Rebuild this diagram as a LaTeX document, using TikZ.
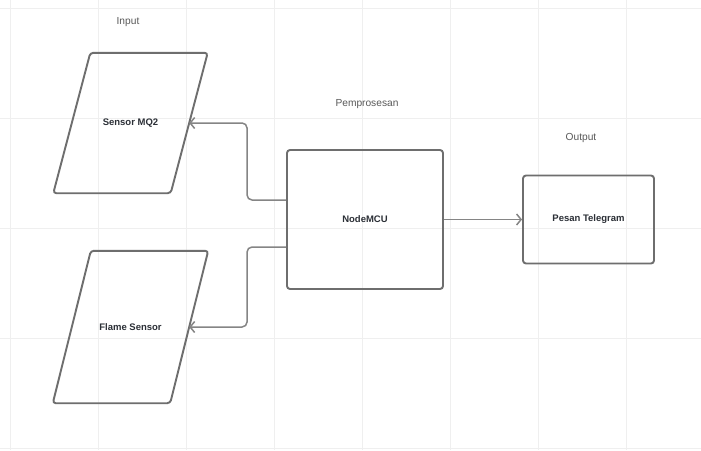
\documentclass[tikz,border=0pt]{standalone}
\usepackage{fontspec}
\setmainfont{Liberation Sans}
\usetikzlibrary{arrows.meta}
\definecolor{boxgray}{HTML}{6E6E6E}
\definecolor{linegray}{HTML}{858585}
\definecolor{gridgray}{HTML}{EFEFEF}
\definecolor{textdark}{HTML}{2B2F36}

\begin{document}
\begin{tikzpicture}[x=1pt, y=-1pt,
	gridline/.style={draw=gridgray, line width=0.8},
	box/.style={draw=boxgray, line width=1.9, rounded corners=3, font=\bfseries\fontsize{9.5}{11}\selectfont, text=textdark},
	para/.style={font=\bfseries\fontsize{9.5}{11}\selectfont, text=textdark, minimum width=117},
	outline/.style={draw=boxgray, line width=1.9, rounded corners=3},
	lbl/.style={font=\fontsize{10.2}{12}\selectfont, text=black!65},
	conn/.style={-{Straight Barb[length=4.5pt, width=11pt]}, draw=linegray, line width=1.5, rounded corners=5}]
	\useasboundingbox[fill=white] (0,0) rectangle (701,450);
	\foreach \x in {10,98,...,626}
		\draw[gridline] (\x,0) -- (\x,450);
	\foreach \y in {8,118,...,448}
		\draw[gridline] (0,\y) -- (701,\y);

	\node[lbl] (input) at (128,22) {Input};
	\node[lbl] (proc) at (367,104) {Pemprosesan};
	\node[lbl] (output) at (581,138) {Output};

	\node[para, minimum height=140] (mq2) at (130.5,123) {Sensor MQ2};
	\draw[outline] ([xshift=18.5]mq2.north west) -- ([xshift=18.5]mq2.north east) -- ([xshift=-18.5]mq2.south east) -- ([xshift=-18.5]mq2.south west) -- cycle;
	\node[para, minimum height=152] (flame) at (130.5,327) {Flame Sensor};
	\draw[outline] ([xshift=19]flame.north west) -- ([xshift=19]flame.north east) -- ([xshift=-19]flame.south east) -- ([xshift=-19]flame.south west) -- cycle;

	\node[box, minimum width=156, minimum height=139] (mcu) at (365,219.5) {NodeMCU};
	\node[box, minimum width=131, minimum height=88] (tg) at (588.5,219.5) {Pesan Telegram};

	\draw[conn] ([yshift=19.5]mcu.west) -- ++(-39,0) |- (mq2.east);
	\draw[conn] ([yshift=-27.5]mcu.west) -- ++(-39,0) |- (flame.east);
	\draw[conn] (mcu.east) -- (tg.west);
\end{tikzpicture}
\end{document}
